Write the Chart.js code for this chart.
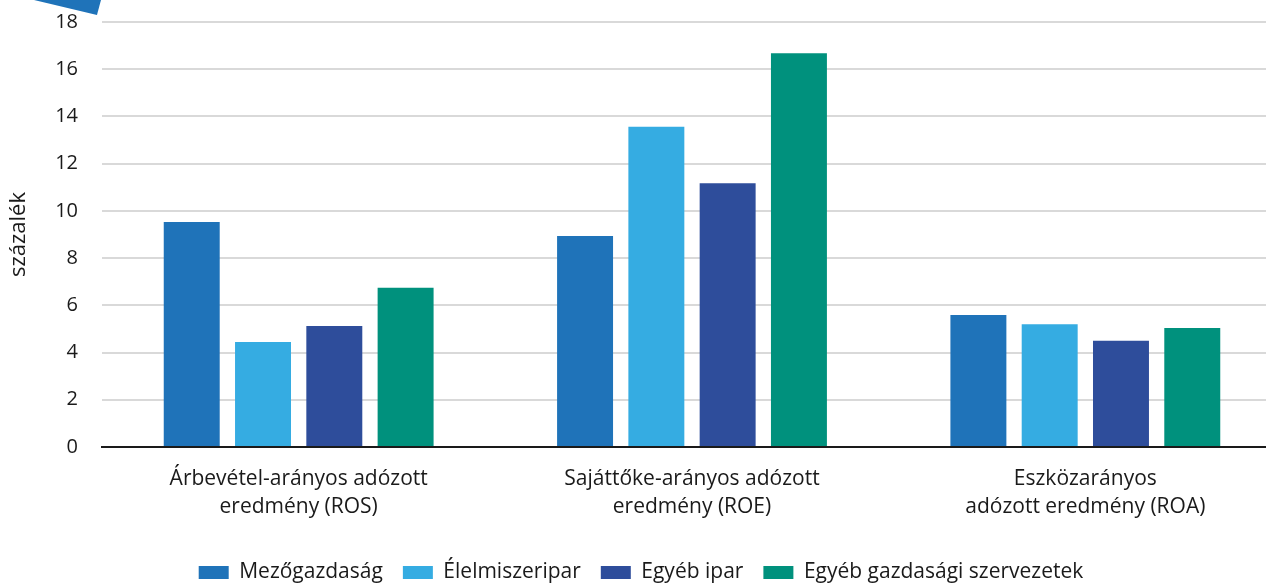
<!DOCTYPE html>
<html>
<head>
<meta charset="utf-8">
<script src="https://cdn.jsdelivr.net/npm/chart.js@4/dist/chart.umd.min.js"></script>
<style>
  html, body { margin: 0; padding: 0; background: #fff; overflow: hidden; }
  #wrap { position: relative; width: 1282px; height: 583px; }
  #corner {
    position: absolute; left: 34px; top: 0; width: 67px; height: 15px;
    background: #1f73b9; clip-path: polygon(0 0, 100% 0, 94% 100%);
    z-index: 2;
  }
</style>
</head>
<body>
<div id="wrap">
  <div id="corner"></div>
  <canvas id="chart"></canvas>
</div>
<script>
var categories = [
  ['Árbevétel-arányos adózott', 'eredmény (ROS)'],
  ['Sajáttőke-arányos adózott', 'eredmény (ROE)'],
  ['Eszközarányos', 'adózott eredmény (ROA)']
];
var mezogazdasag = [9.53, 8.94, 5.59];
var elelmiszeripar = [4.45, 13.56, 5.2];
var egyebIpar = [5.13, 11.17, 4.5];
var egyebGazdasagi = [6.74, 16.68, 5.04];
var yMax = 18;
var yStep = 2;

var font = "'Open Sans', 'Noto Sans', sans-serif";

var ctx = document.getElementById('chart').getContext('2d');
new Chart(ctx, {
  type: 'bar',
  data: {
    labels: categories,
    datasets: [
      { label: 'Mezőgazdaság', data: mezogazdasag, backgroundColor: '#1f73b9' },
      { label: 'Élelmiszeripar', data: elelmiszeripar, backgroundColor: '#35ace2' },
      { label: 'Egyéb ipar', data: egyebIpar, backgroundColor: '#2e4d9b' },
      { label: 'Egyéb gazdasági szervezetek', data: egyebGazdasagi, backgroundColor: '#00917d' }
    ]
  },
  options: {
    responsive: true,
    maintainAspectRatio: false,
    animation: false,
    categoryPercentage: 0.725,
    barPercentage: 0.785,
    layout: { padding: { top: 0, right: 0, left: 0, bottom: -10 } },
    plugins: {
      tooltip: { enabled: false },
      legend: {
        position: 'bottom',
        labels: {
          color: '#1a1a1a',
          font: { family: font, size: 21 },
          boxWidth: 30,
          boxHeight: 13,
          padding: 20
        }
      }
    },
    scales: {
      x: {
        afterFit: function (s) { s.height = 95; },
        grid: { display: false },
        border: { display: true, color: '#1a1a1a', width: 2 },
        ticks: {
          color: '#1a1a1a',
          font: { family: font, size: 21, lineHeight: 1.33 },
          padding: 10,
          maxRotation: 0
        }
      },
      y: {
        min: 0,
        max: yMax,
        afterFit: function (s) {
          s.width = 102;
          s.paddingTop = 22;
          s.paddingBottom = 0;
        },
        border: { display: false },
        grid: {
          color: function (c) { return c.tick && c.tick.value === 0 ? 'rgba(0,0,0,0)' : '#d9d9d9'; },
          lineWidth: 2,
          drawTicks: false
        },
        ticks: {
          stepSize: yStep,
          color: '#1a1a1a',
          font: { family: font, size: 20 },
          padding: 24
        },
        title: {
          display: true,
          text: 'százalék',
          color: '#1a1a1a',
          font: { family: font, size: 22 },
          padding: { top: 6, bottom: 8 }
        }
      }
    }
  }
});
</script>
</body>
</html>
